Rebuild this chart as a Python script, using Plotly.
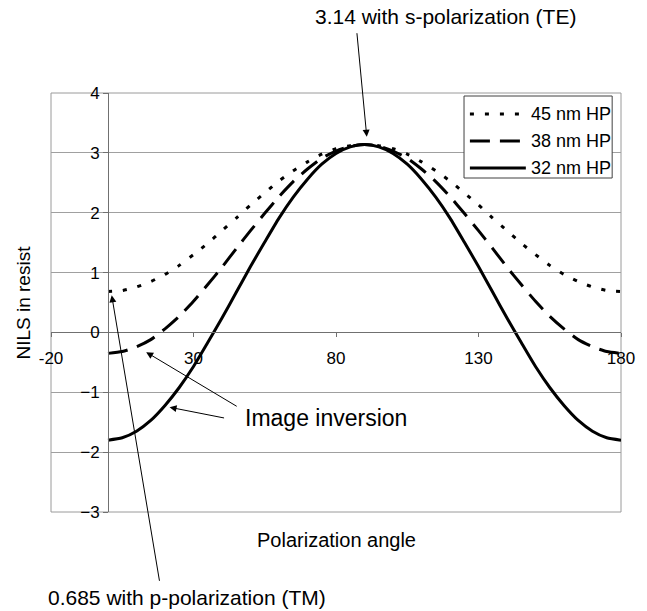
import plotly.graph_objects as go

# ---- data ----
angle = [0, 5, 10, 15, 20, 25, 30, 35, 40, 45, 50, 55, 60, 65, 70, 75, 80, 85, 90,
         95, 100, 105, 110, 115, 120, 125, 130, 135, 140, 145, 150, 155, 160, 165, 170, 175, 180]
nils_45 = [0.685, 0.70, 0.76, 0.85, 0.97, 1.12, 1.30, 1.49, 1.70, 1.91, 2.13, 2.33, 2.53, 2.70, 2.85, 2.98, 3.07, 3.12, 3.14,
           3.12, 3.07, 2.98, 2.85, 2.70, 2.53, 2.33, 2.13, 1.91, 1.70, 1.49, 1.30, 1.12, 0.97, 0.85, 0.76, 0.70, 0.685]
nils_38 = [-0.35, -0.32, -0.24, -0.12, 0.06, 0.27, 0.52, 0.80, 1.09, 1.40, 1.70, 1.99, 2.27, 2.52, 2.73, 2.91, 3.03, 3.11, 3.14,
           3.11, 3.03, 2.91, 2.73, 2.52, 2.27, 1.99, 1.70, 1.40, 1.09, 0.80, 0.52, 0.27, 0.06, -0.12, -0.24, -0.32, -0.35]
nils_32 = [-1.80, -1.76, -1.65, -1.47, -1.22, -0.92, -0.57, -0.17, 0.24, 0.67, 1.10, 1.51, 1.91, 2.26, 2.56, 2.81, 2.99, 3.10, 3.14,
           3.10, 2.99, 2.81, 2.56, 2.26, 1.91, 1.51, 1.10, 0.67, 0.24, -0.17, -0.57, -0.92, -1.22, -1.47, -1.65, -1.76, -1.80]

series_names = ["45 nm HP", "38 nm HP", "32 nm HP"]
series_dash = ["4px,11px", "20px,10px", "solid"]
x_ticks = [-20, 30, 80, 130, 180]
y_ticks = [-3, -2, -1, 0, 1, 2, 3, 4]

FONT = "Liberation Sans, Arial, Helvetica, sans-serif"
W, H = 647, 611
ML, MR, MT, MB = 51, 15, 93, 99
PW = W - ML - MR
PH = H - MT - MB


def px(xp):
    return (xp - ML) / PW


def py(yp):
    return (H - MB - yp) / PH


fig = go.Figure()
for name, ys, dash in zip(series_names, [nils_45, nils_38, nils_32], series_dash):
    fig.add_trace(go.Scatter(
        x=angle, y=ys, mode="lines", name=name,
        line=dict(color="black", width=3, dash=dash, shape="spline", smoothing=0.6),
        showlegend=False,
    ))

xmin, xmax = -20, 180
ymin, ymax = -3, 4

fig.update_layout(
    width=W, height=H,
    margin=dict(l=ML, r=MR, t=MT, b=MB),
    paper_bgcolor="white", plot_bgcolor="white",
    font=dict(family=FONT, color="black", size=17),
    xaxis=dict(
        range=[xmin, xmax], tickvals=x_ticks, ticktext=[str(v) for v in x_ticks],
        anchor="free", position=(0 - ymin) / (ymax - ymin),
        showline=True, linecolor="#707070", linewidth=1,
        ticks="outside", ticklen=4, tickcolor="#707070",
        ticklabelstandoff=6,
        showgrid=False, zeroline=False,
        tickfont=dict(family=FONT, size=17, color="black"),
    ),
    yaxis=dict(
        range=[ymin, ymax], tickvals=y_ticks,
        anchor="free", position=(0 - xmin) / (xmax - xmin),
        showline=True, linecolor="#707070", linewidth=1,
        ticks="outside", ticklen=5, tickcolor="#707070",
        showgrid=True, gridcolor="#a0a0a0", gridwidth=1,
        zeroline=False,
        tickfont=dict(family=FONT, size=17, color="black"),
    ),
    showlegend=False,
)

shapes = []
# plot area frame
shapes.append(dict(type="rect", xref="paper", yref="paper", x0=0, x1=1, y0=0, y1=1,
                   line=dict(color="#9a9a9a", width=1), layer="below"))
# custom legend box
lx0, lx1, ly0, ly1 = px(472), px(623), py(178), py(96)
shapes.append(dict(type="rect", xref="paper", yref="paper", x0=lx0, x1=lx1, y0=ly0, y1=ly1,
                   line=dict(color="#404040", width=1), fillcolor="white", layer="above"))
item_y = [114, 141, 168]
annotations = []
for name, dash, yy in zip(series_names, series_dash, item_y):
    shapes.append(dict(type="line", xref="paper", yref="paper",
                       x0=px(478), x1=px(535), y0=py(yy), y1=py(yy),
                       line=dict(color="black", width=3, dash=dash), layer="above"))
    annotations.append(dict(xref="paper", yref="paper", x=px(538), y=py(yy),
                            text=name, showarrow=False, xanchor="left", yanchor="middle",
                            font=dict(family=FONT, size=18, color="black")))

# axis titles
annotations.append(dict(xref="paper", yref="paper", x=px(22), y=py(303), text="NILS in resist",
                        textangle=-90, showarrow=False, xanchor="center", yanchor="middle",
                        font=dict(family=FONT, size=19)))
annotations.append(dict(xref="paper", yref="paper", x=px(342), y=py(540), text="Polarization angle",
                        showarrow=False, xanchor="center", yanchor="middle",
                        font=dict(family=FONT, size=20)))

# callout texts
annotations.append(dict(xref="paper", yref="paper", x=px(453), y=py(16),
                        text="3.14 with s-polarization (TE)", showarrow=False,
                        xanchor="center", yanchor="middle", font=dict(family=FONT, size=21)))
annotations.append(dict(xref="paper", yref="paper", x=px(190), y=py(597),
                        text="0.685 with p-polarization (TM)", showarrow=False,
                        xanchor="center", yanchor="middle", font=dict(family=FONT, size=21)))
annotations.append(dict(xref="paper", yref="paper", x=px(331), y=py(418),
                        text="Image inversion", showarrow=False,
                        xanchor="center", yanchor="middle", font=dict(family=FONT, size=23)))

# arrows (tip in data coords, tail offset in pixels)
arrows = [
    (90.8, 3.27, -10, -105),
    (1.3, 0.62, 48, 287),
    (13.4, -0.33, 92, 55),
    (21.6, -1.25, 56, 11),
]
for xt, yt, ax, ay in arrows:
    annotations.append(dict(x=xt, y=yt, xref="x", yref="y", ax=ax, ay=ay,
                            axref="pixel", ayref="pixel", text="", showarrow=True,
                            arrowhead=2, arrowsize=1.4, arrowwidth=1, arrowcolor="black",
                            standoff=0, startstandoff=0))

fig.update_layout(shapes=shapes, annotations=annotations)
fig.write_html("out.html")
